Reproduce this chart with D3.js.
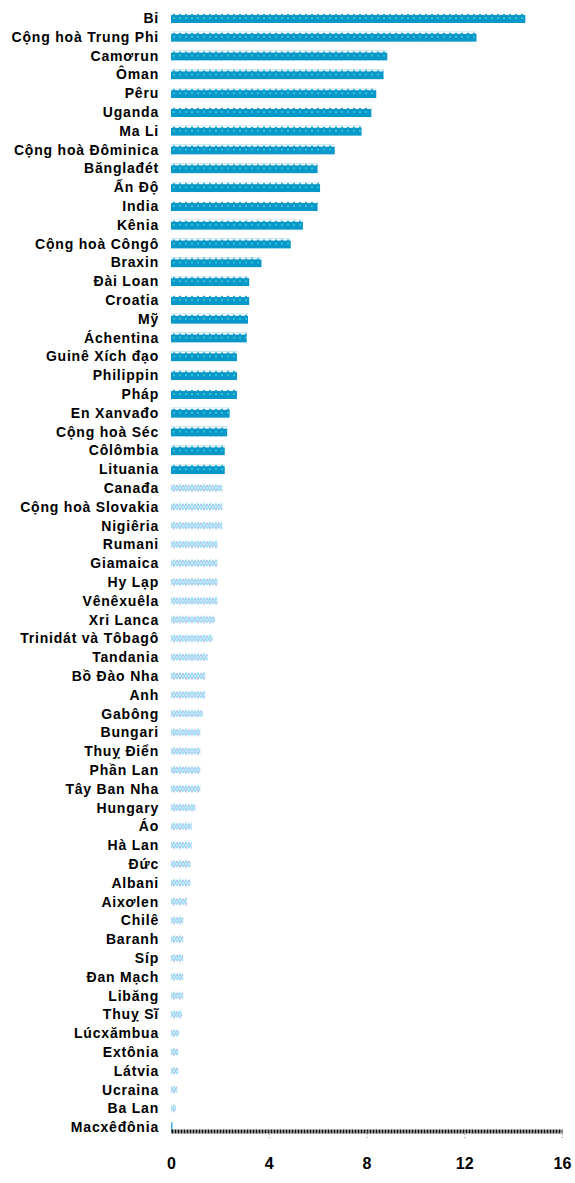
<!DOCTYPE html>
<meta charset="utf-8">
<style>
body { margin: 0; background: #fff; }
.label { font-family: "Liberation Sans", Arial, sans-serif; font-size: 14px; font-weight: bold; fill: #000; letter-spacing: 0.8px; }
.x-axis text { font-family: "Liberation Sans", Arial, sans-serif; font-size: 16px; font-weight: bold; fill: #000; }
.x-axis .domain { stroke: #111; stroke-width: 4; stroke-dasharray: 2,1; }
.x-axis .tick line { stroke: #888; stroke-dasharray: 1,2; }
</style>
<script src="https://d3js.org/d3.v7.min.js"></script>
<svg id="chart" width="575" height="1183"></svg>
<script>

var countries = ["Bỉ", "Cộng hoà Trung Phi", "Camơrun", "Ôman", "Pêru", "Uganda", "Ma Li",
  "Cộng hoà Đôminica", "Bănglađét", "Ấn Độ", "India", "Kênia", "Cộng hoà Côngô", "Braxin",
  "Đài Loan", "Croatia", "Mỹ", "Áchentina", "Guinê Xích đạo", "Philippin", "Pháp",
  "En Xanvađo", "Cộng hoà Séc", "Côlômbia", "Lituania", "Canađa", "Cộng hoà Slovakia",
  "Nigiêria", "Rumani", "Giamaica", "Hy Lạp", "Vênêxuêla", "Xri Lanca", "Trinidát và Tôbagô",
  "Tandania", "Bồ Đào Nha", "Anh", "Gabông", "Bungari", "Thuỵ Điển", "Phần Lan",
  "Tây Ban Nha", "Hungary", "Áo", "Hà Lan", "Đức", "Albani", "Aixơlen", "Chilê", "Baranh",
  "Síp", "Đan Mạch", "Libăng", "Thuỵ Sĩ", "Lúcxămbua", "Extônia", "Látvia", "Ucraina",
  "Ba Lan", "Macxêđônia"];

var values = [14.5, 12.5, 8.85, 8.7, 8.4, 8.2, 7.8,
  6.7, 6.0, 6.1, 6.0, 5.4, 4.9, 3.7,
  3.2, 3.2, 3.15, 3.1, 2.7, 2.7, 2.7,
  2.4, 2.3, 2.2, 2.2, 2.1, 2.1,
  2.1, 1.9, 1.9, 1.9, 1.9, 1.8, 1.7,
  1.5, 1.4, 1.4, 1.3, 1.2, 1.2, 1.2,
  1.2, 1.0, 0.85, 0.85, 0.8, 0.8, 0.65, 0.5, 0.5,
  0.5, 0.5, 0.5, 0.45, 0.33, 0.3, 0.3, 0.25,
  0.2, 0.05];

// first 25 bars are drawn dark, the rest light
var highlighted = 25;

var xTicks = [0, 4, 8, 12, 16];

var svg = d3.select("svg#chart"),
    marginLeft = 171, plotRight = 562,
    marginTop = 8.6, rowStep = 18.8, axisY = 1131;

var x = d3.scaleLinear().domain([0, 16]).range([marginLeft, plotRight]);
var y = d3.scaleBand().domain(countries)
    .range([marginTop, marginTop + rowStep * countries.length])
    .paddingInner(0.47).paddingOuter(0.235);

var defs = svg.append("defs");

var dark = defs.append("pattern")
    .attr("id", "dark").attr("patternUnits", "userSpaceOnUse")
    .attr("width", 6).attr("height", 10);
dark.append("rect").attr("width", 6).attr("height", 10).attr("fill", "#0797c9");
dark.append("path").attr("d", "M0,0 L6,0 L6,2 L4.5,2 L3,0.6 L1.5,2 L0,2 Z").attr("fill", "#fff");
dark.append("circle").attr("cx", 3).attr("cy", 5).attr("r", 1).attr("fill", "#3fd0d6");

var light = defs.append("pattern")
    .attr("id", "light").attr("patternUnits", "userSpaceOnUse")
    .attr("width", 6).attr("height", 10);
light.append("rect").attr("width", 6).attr("height", 10).attr("fill", "#fff");
light.append("path").attr("d", "M0,2 L3,8 L6,2").attr("fill", "none").attr("stroke", "#a9c3f4").attr("stroke-width", 1.3);
light.append("path").attr("d", "M0,8 L3,2 L6,8").attr("fill", "none").attr("stroke", "#8fdcf0").attr("stroke-width", 1.3);

var rows = svg.append("g").selectAll("g")
  .data(countries)
  .enter().append("g")
    .attr("transform", function(d) { return "translate(" + marginLeft + "," + y(d) + ")"; });

rows.append("rect")
    .attr("height", y.bandwidth())
    .attr("width", function(d, i) { return Math.max(1.5, x(values[i]) - marginLeft); })
    .attr("fill", function(d, i) { return i < highlighted ? "url(#dark)" : "url(#light)"; })
    .filter(function(d, i) { return x(values[i]) - marginLeft < 2; })
    .attr("fill", "#4aa8e0");

rows.append("text")
    .attr("class", "label")
    .attr("x", -12)
    .attr("y", y.bandwidth() / 2)
    .attr("dy", "0.35em")
    .attr("text-anchor", "end")
    .text(function(d) { return d; });

svg.append("g")
    .attr("class", "x-axis")
    .attr("transform", "translate(0," + axisY + ")")
    .call(d3.axisBottom(x).tickValues(xTicks).tickSize(8).tickSizeOuter(0).tickPadding(19))
    .call(function(g) { g.selectAll(".tick").filter(function(d) { return d === 0; }).select("line").remove(); });

</script>
